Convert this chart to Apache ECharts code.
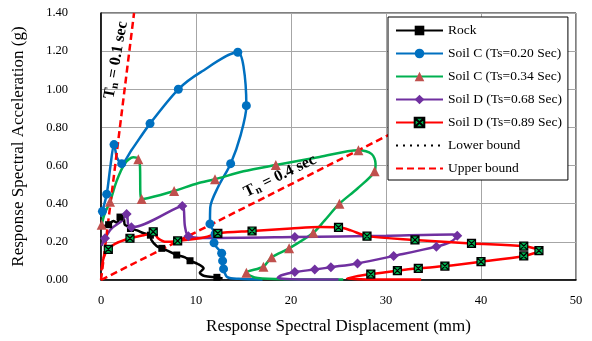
<!DOCTYPE html>
<html>
<head>
<meta charset="utf-8">
<script src="https://cdn.jsdelivr.net/npm/echarts@6/dist/echarts.min.js"></script>
<style>
  html, body { margin: 0; padding: 0; background: #fff; }
  #chart { width: 592px; height: 341px; }
</style>
</head>
<body>
<div id="chart"></div>
<script>
// Axis ticks
const xTicks = [0, 10, 20, 30, 40, 50];
const yTicks = [0.00, 0.20, 0.40, 0.60, 0.80, 1.00, 1.20, 1.40];

// Capacity-demand spectra: [Sd (mm), Sa (g)]; *Marks lists the points that carry a marker
const rock = [
  [0.05, 0.28], [0.8, 0.29], [1.3, 0.31], [1.7, 0.30], [2.0, 0.33], [2.4, 0.32], [2.5, 0.29],
  [2.9, 0.28], [3.1, 0.27], [3.8, 0.26], [4.5, 0.245], [5.2, 0.235], [5.3, 0.21], [5.85, 0.178],
  [6.4, 0.166], [7.26, 0.148], [7.97, 0.131], [8.84, 0.119], [9.37, 0.101], [10.2, 0.084],
  [10.8, 0.061], [10.4, 0.038], [10.9, 0.021], [12.2, 0.014], [12.8, 0.008]
];
const rockMarks = [1, 4, 8, 11, 14, 16, 18, 23];

const soilC020 = [
  [0.05, 0.33], [0.15, 0.36], [0.6, 0.45], [1.0, 0.6], [1.37, 0.71], [1.7, 0.64], [2.18, 0.61],
  [3.2, 0.68], [5.16, 0.82], [8.14, 1.00], [10.5, 1.09], [14.4, 1.194], [15.0, 1.12],
  [15.3, 0.914], [14.7, 0.76], [13.65, 0.61], [12.35, 0.49], [11.5, 0.38], [11.47, 0.294],
  [12.0, 0.24], [11.9, 0.195], [12.7, 0.14], [12.8, 0.10], [12.9, 0.058], [13.3, 0.015],
  [14.5, 0.006], [17.0, 0.003]
];
const soilC020Marks = [1, 2, 4, 6, 8, 9, 11, 13, 15, 18, 19, 20, 21, 22, 23];

const soilC034 = [
  [0.07, 0.29], [0.4, 0.35], [0.95, 0.41], [1.65, 0.52], [2.5, 0.61], [3.4, 0.643],
  [3.93, 0.633], [4.1, 0.6], [4.15, 0.45], [4.28, 0.425], [5.0, 0.43], [7.7, 0.467],
  [10.2, 0.507], [12.0, 0.528], [15.0, 0.57], [18.4, 0.603], [23.0, 0.645], [27.1, 0.68],
  [28.5, 0.66], [28.9, 0.61], [28.8, 0.57], [27.0, 0.48], [25.1, 0.40], [23.5, 0.31],
  [22.35, 0.248], [19.8, 0.166], [17.97, 0.119], [17.1, 0.07], [15.3, 0.038], [16.5, 0.01],
  [20.0, 0.004], [25.5, 0.002]
];
const soilC034Marks = [0, 2, 6, 9, 11, 13, 15, 17, 20, 22, 24, 25, 26, 27, 28];

const soilD068 = [
  [0.07, 0.18], [0.42, 0.219], [1.1, 0.27], [2.2, 0.31], [2.7, 0.346], [2.9, 0.28],
  [3.2, 0.276], [8.56, 0.388], [8.84, 0.28], [9.2, 0.23], [10.95, 0.22], [20.4, 0.225],
  [30.0, 0.232], [37.0, 0.238], [37.5, 0.232], [36.8, 0.2], [35.3, 0.175], [30.8, 0.126],
  [27.0, 0.087], [24.2, 0.067], [22.5, 0.055], [20.4, 0.042], [19.0, 0.025], [18.6, 0.012],
  [20.0, 0.004], [25.0, 0.002]
];
const soilD068Marks = [1, 4, 6, 7, 9, 11, 14, 16, 17, 18, 19, 20, 21];

const soilD089 = [
  [0.05, 0.05], [0.3, 0.12], [0.77, 0.161], [1.47, 0.19], [3.05, 0.219], [4.5, 0.235],
  [5.0, 0.24], [5.5, 0.253], [6.0, 0.219], [6.9, 0.20], [8.07, 0.205], [10.95, 0.224],
  [12.3, 0.245], [15.9, 0.257], [20.0, 0.27], [23.05, 0.278], [25.0, 0.276], [26.3, 0.26],
  [28.0, 0.23], [33.05, 0.21], [39.0, 0.192], [44.5, 0.178], [46.1, 0.154], [44.5, 0.126],
  [40.0, 0.096], [36.2, 0.073], [33.4, 0.061], [31.2, 0.049], [28.4, 0.031], [26.5, 0.015],
  [25.9, 0.008], [28.0, 0.003], [33.7, 0.002]
];
const soilD089Marks = [2, 4, 7, 10, 12, 13, 16, 18, 19, 20, 21, 22, 23, 24, 25, 26, 27, 28];

// Constant-period lines through the origin
const upperBoundT01 = [[0, 0], [3.48, 1.40]];
const upperBoundT04 = [[0, 0], [45.0, 1.13]];
const lowerBound = [];

const FONT = 'Liberation Serif';

function withMarks(points, marks) {
  const set = new Set(marks);
  return points.map((p, i) => set.has(i) ? { value: p } : { value: p, symbol: 'none' });
}

function curve(name, points, marks, lineColor, symbol, symbolSize, itemStyle) {
  return {
    name: name,
    type: 'line',
    data: withMarks(points, marks),
    smooth: 0.3,
    symbol: symbol,
    symbolSize: symbolSize,
    showSymbol: true,
    lineStyle: { color: lineColor, width: 2.5 },
    itemStyle: itemStyle,
    emphasis: { disabled: true },
    animation: false
  };
}

function boundLine(name, data, color, dash) {
  return {
    name: name, type: 'line', data: data, symbol: 'none',
    lineStyle: { color: color, width: 2.5, type: dash },
    itemStyle: { color: 'rgba(0,0,0,0)', borderWidth: 0 },
    emphasis: { disabled: true }
  };
}

const xBoxPath = 'path://M0,0L10,0L10,10L0,10Z M0,0L10,10 M10,0L0,10';

const chart = echarts.init(document.getElementById('chart'), null, { renderer: 'canvas' });

const rich = {
  t: { fontFamily: FONT, fontSize: 16, fontWeight: 'bold', fill: '#000', lineHeight: 18 },
  s: { fontFamily: FONT, fontSize: 11, fontWeight: 'bold', fill: '#000', verticalAlign: 'bottom' }
};

chart.setOption({
  animation: false,
  grid: {
    left: 101, right: 16, top: 13, bottom: 61,
    show: true, borderColor: '#000', borderWidth: 1
  },
  xAxis: {
    type: 'value',
    min: xTicks[0], max: xTicks[xTicks.length - 1], interval: 10,
    name: 'Response Spectral Displacement (mm)',
    nameLocation: 'middle', nameGap: 38,
    nameTextStyle: { fontFamily: FONT, fontSize: 17, color: '#000' },
    axisLine: { show: true, lineStyle: { color: '#000', width: 1.5 } },
    axisTick: { show: false },
    axisLabel: { fontFamily: FONT, fontSize: 12.5, color: '#000', margin: 14 },
    splitLine: { show: true, lineStyle: { color: '#a6a6a6', width: 1 } }
  },
  yAxis: {
    type: 'value',
    min: yTicks[0], max: yTicks[yTicks.length - 1], interval: 0.2,
    name: 'Response Spectral Acceleration (g)',
    nameLocation: 'middle', nameGap: 74,
    nameTextStyle: { fontFamily: FONT, fontSize: 17, color: '#000' },
    axisLine: { show: true, lineStyle: { color: '#000', width: 1.5 } },
    axisTick: { show: false },
    axisLabel: {
      fontFamily: FONT, fontSize: 12.5, color: '#000', margin: 33,
      formatter: v => v.toFixed(2)
    },
    splitLine: { show: true, lineStyle: { color: '#a6a6a6', width: 1 } }
  },
  legend: {
    orient: 'vertical',
    left: 388, top: 17,
    padding: [6, 6, 4, 7],
    itemWidth: 47, itemHeight: 12, itemGap: 8, itemTextGap: 10,
    backgroundColor: '#fff',
    borderColor: '#000', borderWidth: 1,
    textStyle: { fontFamily: FONT, fontSize: 13.5, color: '#000', lineHeight: 15 },
    data: ['Rock', 'Soil C (Ts=0.20 Sec)', 'Soil C (Ts=0.34 Sec)', 'Soil D (Ts=0.68 Sec)',
           'Soil D (Ts=0.89 Sec)', 'Lower bound', 'Upper bound']
  },
  series: [
    curve('Rock', rock, rockMarks, '#000', 'rect', 7, { color: '#000' }),
    curve('Soil C (Ts=0.20 Sec)', soilC020, soilC020Marks, '#0070C0', 'circle', 9, { color: '#0070C0' }),
    curve('Soil C (Ts=0.34 Sec)', soilC034, soilC034Marks, '#00B050', 'triangle', 10, { color: '#C0504D' }),
    curve('Soil D (Ts=0.68 Sec)', soilD068, soilD068Marks, '#7030A0', 'diamond', 10, { color: '#7030A0' }),
    curve('Soil D (Ts=0.89 Sec)', soilD089, soilD089Marks, '#FF0000', xBoxPath, 8,
          { color: '#00B050', borderColor: '#000', borderWidth: 1.2 }),
    boundLine('Lower bound', lowerBound, '#000', [2, 5]),
    boundLine('Upper bound', upperBoundT01, '#FF0000', [7, 4]),
    boundLine('Upper bound', upperBoundT04, '#FF0000', [7, 4])
  ],
  graphic: [
    {
      type: 'text', x: 116, y: 60, rotation: 80 * Math.PI / 180, z: 10,
      style: { text: '{t|T}{s|n}{t| = 0.1 sec}', align: 'center', verticalAlign: 'middle', rich: rich }
    },
    {
      type: 'text', x: 280, y: 176, rotation: 26 * Math.PI / 180, z: 10,
      style: { text: '{t|T}{s|n}{t| = 0.4 sec}', align: 'center', verticalAlign: 'middle', rich: rich }
    }
  ]
});
</script>
</body>
</html>
